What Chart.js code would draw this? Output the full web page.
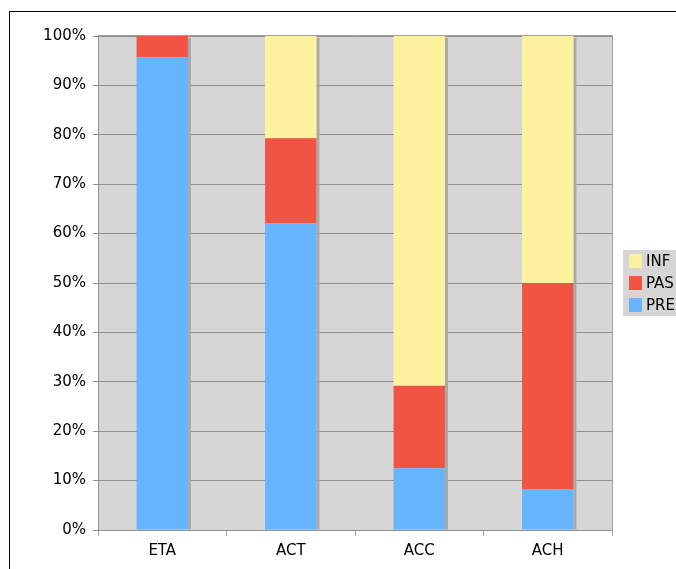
<!DOCTYPE html>
<html>
<head>
<meta charset="utf-8">
<script src="https://cdn.jsdelivr.net/npm/chart.js@4/dist/chart.umd.min.js"></script>
<style>
  html, body { margin: 0; padding: 0; background: #fff; }
  canvas { display: block; }
</style>
</head>
<body>
<canvas id="grafico" width="676" height="569"></canvas>
<script>
const categorias = ['ETA', 'ACT', 'ACC', 'ACH'];
const pre = [95.7, 62.1, 12.5, 8.3];
const pas = [4.3, 17.2, 16.7, 41.7];
const inf = [0, 20.7, 70.8, 50.0];
const ticksY = [0, 10, 20, 30, 40, 50, 60, 70, 80, 90, 100];

const colores = { PRE: '#66b4fc', PAS: '#f25443', INF: '#fff29e' };

// fondo gris del area, marco exterior, sombras de barras y leyenda
const decoracion = {
    id: 'decoracion',
    beforeDraw(chart) {
        const ctx = chart.ctx;
        const a = chart.chartArea;
        ctx.save();
        ctx.fillStyle = '#d6d6d6';
        ctx.fillRect(a.left, a.top, a.right - a.left, a.bottom - a.top);
        ctx.strokeStyle = '#a0a0a0';
        ctx.lineWidth = 1;
        ctx.beginPath();
        ctx.moveTo(a.left, a.top - 0.5);
        ctx.lineTo(a.right + 0.5, a.top - 0.5);
        ctx.lineTo(a.right + 0.5, a.bottom);
        ctx.stroke();
        ctx.strokeStyle = '#000';
        ctx.strokeRect(9.5, 11.5, 800, 800);
        ctx.restore();
    },
    beforeDatasetsDraw(chart) {
        const ctx = chart.ctx;
        ctx.save();
        ctx.fillStyle = '#a8a8a8';
        categorias.forEach((c, i) => {
            let top = Infinity, base = 0, right = 0;
            chart.data.datasets.forEach((ds, d) => {
                const bar = chart.getDatasetMeta(d).data[i];
                if (ds.data[i] > 0) {
                    top = Math.min(top, bar.y);
                    base = Math.max(base, bar.base);
                    right = bar.x + bar.width / 2;
                }
            });
            ctx.fillRect(right, top + 2, 3, base - top - 2);
        });
        ctx.restore();
    },
    afterDraw(chart) {
        const ctx = chart.ctx;
        ctx.save();
        ctx.fillStyle = '#d6d6d6';
        ctx.fillRect(623, 250, 60, 66);
        const items = ['INF', 'PAS', 'PRE'];
        ctx.font = '15px "DejaVu Sans"';
        ctx.textBaseline = 'middle';
        items.forEach((n, k) => {
            const y = 261 + k * 22;
            ctx.fillStyle = colores[n];
            ctx.fillRect(629, y - 7, 13, 14);
            ctx.fillStyle = '#000';
            ctx.fillText(n, 646, y + 1);
        });
        ctx.restore();
    }
};

new Chart(document.getElementById('grafico'), {
    type: 'bar',
    data: {
        labels: categorias,
        datasets: [
            { label: 'PRE', data: pre, backgroundColor: colores.PRE },
            { label: 'PAS', data: pas, backgroundColor: colores.PAS },
            { label: 'INF', data: inf, backgroundColor: colores.INF }
        ]
    },
    options: {
        responsive: false,
        animation: false,
        layout: { padding: { left: 0, top: 36, right: 64, bottom: 0 } },
        datasets: { bar: { categoryPercentage: 0.4, barPercentage: 1 } },
        plugins: { legend: { display: false }, tooltip: { enabled: false } },
        scales: {
            x: {
                stacked: true,
                afterFit(s) { s.height = 39; },
                grid: { offset: true, drawOnChartArea: false, tickLength: 6, color: '#a0a0a0' },
                border: { color: '#909090' },
                ticks: { color: '#000', font: { family: 'DejaVu Sans', size: 15 }, padding: 6 }
            },
            y: {
                stacked: true,
                min: 0,
                max: 100,
                afterFit(s) { s.width = 98; },
                afterBuildTicks(s) { s.ticks = ticksY.map(v => ({ value: v })); },
                grid: { color: '#8f8f8f', tickLength: 5 },
                border: { color: '#909090' },
                ticks: {
                    color: '#000',
                    font: { family: 'DejaVu Sans', size: 15 },
                    padding: 7,
                    callback: v => v + '%'
                }
            }
        }
    },
    plugins: [decoracion]
});
</script>
</body>
</html>
